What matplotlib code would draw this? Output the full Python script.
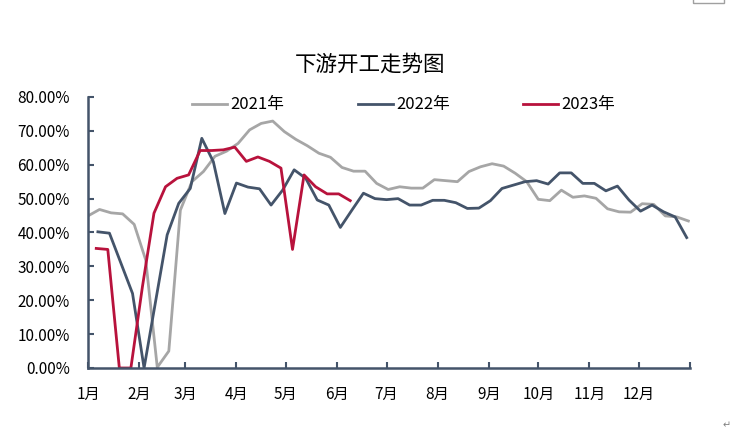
import matplotlib
matplotlib.use("Agg")
import matplotlib.pyplot as plt
from matplotlib.patches import Rectangle
import numpy as np

plt.rcParams['font.family'] = ['Noto Sans CJK SC', 'DejaVu Sans']

# Wochenwerte Downstream-Auslastung (%)
y2021 = [44.9, 46.8, 45.8, 45.5, 42.4, 31.9, 0.2, 5.0, 46.6, 55.0,
         58.0, 62.5, 64.0, 66.3, 70.3, 72.2, 72.9, 69.8, 67.5, 65.6,
         63.4, 62.2, 59.2, 58.1, 58.1, 54.5, 52.7, 53.5, 53.1, 53.1,
         55.6, 55.3, 55.0, 58.0, 59.4, 60.3, 59.6, 57.5, 55.0, 49.8,
         49.4, 52.5, 50.4, 50.8, 50.1, 47.0, 46.1, 46.0, 48.5, 48.3,
         44.9, 44.6, 43.4]
y2022 = [40.2, 39.8, 30.9, 22.0, 0.0, 19.7, 39.3, 48.6, 53.0, 67.8,
         60.9, 45.6, 54.6, 53.4, 52.9, 48.1, 52.5, 58.5, 56.0, 49.6,
         48.1, 41.5, 46.6, 51.6, 50.0, 49.7, 50.0, 48.1, 48.1, 49.5,
         49.5, 48.8, 47.1, 47.2, 49.4, 53.0, 54.0, 55.0, 55.3, 54.3,
         57.6, 57.6, 54.5, 54.5, 52.3, 53.7, 49.6, 46.3, 48.1, 46.1,
         44.6, 38.5]
y2023 = [35.3, 35.0, 0.0, 0.0, 24.0, 45.7, 53.5, 56.0, 57.0, 64.2,
         64.2, 64.4, 65.2, 61.0, 62.3, 61.0, 59.0, 35.0, 57.0, 53.5,
         51.4, 51.4, 49.4]

# erster Datenpunkt als Tag im Jahr (Wochenraster)
start_2021 = 0
start_2022 = 6
start_2023 = 5

month_days = [0, 31, 59, 90, 120, 151, 181, 212, 243, 273, 304, 334, 365]
month_labels = ['1月', '2月', '3月', '4月', '5月', '6月', '7月', '8月',
                '9月', '10月', '11月', '12月', '']
y_ticks = [0, 10, 20, 30, 40, 50, 60, 70, 80]

x21 = start_2021 + 7 * np.arange(len(y2021))
x22 = start_2022 + 7 * np.arange(len(y2022))
x23 = start_2023 + 7 * np.arange(len(y2023))

navy = '#44546A'

fig = plt.figure(figsize=(7.35, 4.45), dpi=100)
ax = fig.add_axes([88 / 735, 1 - 368 / 445, 602 / 735, 271 / 445])

ax.plot(x21, y2021, color='#A6A6A6', linewidth=2.0, label='2021年')
ax.plot(x22, y2022, color=navy, linewidth=2.0, label='2022年')
ax.plot(x23, y2023, color='#B8123C', linewidth=2.0, label='2023年')

ax.set_xlim(0, 365)
ax.set_ylim(0, 80)

ax.set_xticks(month_days)
ax.set_xticklabels(month_labels, fontsize=11)
ax.set_yticks(y_ticks)
ax.set_yticklabels([f'{v:.2f}%' for v in y_ticks], fontsize=11)

for side in ['top', 'right']:
    ax.spines[side].set_visible(False)
for side in ['left', 'bottom']:
    ax.spines[side].set_color(navy)
    ax.spines[side].set_linewidth(1.8)

ax.tick_params(axis='x', direction='in', length=4, width=1.5, color=navy, pad=13)
ax.tick_params(axis='y', direction='in', length=4, width=1.5, color=navy, pad=13)

fig.text(370 / 735, 1 - 65 / 445, '下游开工走势图', fontsize=15.5,
         ha='center', va='center')

fig.legend(loc='center', bbox_to_anchor=(404 / 735, 1 - 105 / 445), ncol=3,
           frameon=False, fontsize=12, handlelength=2.1, handletextpad=0.2,
           columnspacing=4.4)

# Word-Artefakte am Rand
fig.text(727 / 735, 1 - 425 / 445, '↵', fontsize=7, color='#808080',
         ha='center', va='center', family='DejaVu Sans')
fig.patches.append(Rectangle((693 / 735, 1 - 3 / 445), 31 / 735, 10 / 445,
                             transform=fig.transFigure, fill=False,
                             edgecolor='#A0A0A0', linewidth=1))

fig.savefig('out.png', dpi=100)
